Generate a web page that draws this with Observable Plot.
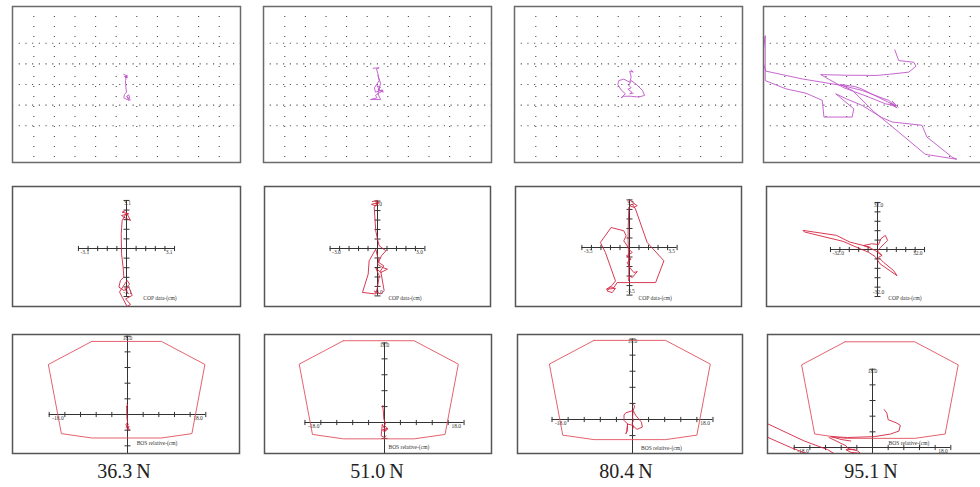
<!DOCTYPE html>
<html><head><meta charset="utf-8">
<script src="https://cdn.jsdelivr.net/npm/d3@7"></script>
<script src="https://cdn.jsdelivr.net/npm/@observablehq/plot@0.6"></script>
<style>
html,body{margin:0;padding:0;background:#fff;overflow:hidden;}
#root{position:relative;width:980px;height:487px;overflow:hidden;background:#fff;}
.force{position:absolute;top:459px;width:120px;margin-left:-60px;text-align:center;font-family:"Liberation Serif","DejaVu Serif",serif;font-size:20px;color:#222;line-height:24px;}
</style></head><body><div id="root"></div>
<script>
// ---------------- DATA ----------------
const forces = ["36.3\u2009N", "51.0\u2009N", "80.4\u2009N", "95.1\u2009N"];
const copRanges = [3.1, 3.0, 3.5, 32.0];
const bosRange = 18.0;
const gridX = [-4.5, -3.5, -2.5, -1.5, -0.5, 0.5, 1.5, 2.5, 3.5, 4.5];
const gridY = [-2, -1, 0, 1, 2];

// Row 1: raw centre-of-pressure traces (grid units)
const raw1 = [[-0.13,0.49],[0.03,0.42],[-0.1,0.39],[0.06,0.36],[-0.06,0.32],[0.02,0.45],[-0.05,0.19],[-0.03,-0.13],[0,-0.37],[-0.1,-0.49],[-0.13,-0.65],[0.03,-0.73],[0.16,-0.65],[0.11,-0.5],[0,-0.58],[0.19,-0.74],[0.1,-0.78],[0.05,-0.6]];
const raw2 = [[-0.21,0.79],[0.08,0.81],[-0.05,0.76],[0.02,0.52],[0.08,0.19],[-0.02,0.03],[-0.15,-0.16],[-0.1,-0.37],[0.06,-0.32],[0.23,-0.26],[0.28,-0.37],[0.02,-0.26],[0.15,-0.13],[-0.02,-0.06],[0.12,-0.3],[0.25,-0.3],[-0.1,-0.53],[-0.02,-0.65],[-0.34,-0.73],[0.15,-0.73],[0.02,-0.45],[0.15,0.06],[0.02,0.44]];
const raw3 = [[0.13,0.71],[0.23,0.6],[0.06,0.65],[0.13,0.36],[0.06,0.11],[-0.23,0.26],[-0.47,0.19],[-0.52,0],[-0.36,-0.26],[-0.15,-0.45],[-0.36,-0.65],[-0.23,-0.57],[0.1,-0.57],[0.5,-0.61],[0.78,-0.53],[0.68,-0.29],[0.39,0],[0.13,0.19],[0.02,-0.05],[0.13,-0.16],[-0.03,-0.23],[0.16,-0.37],[0.06,-0.45],[0.23,-0.42]];
const raw4 = [[0.84,1.68],[1.03,1.16],[1.4,1.12],[1.76,1.08],[1.87,0.89],[1.52,0.6],[0.6,0.5],[-0.02,0.44],[-1.5,0.45],[-2.76,0.48],[-1.63,-0.16],[-0.5,-0.58],[0.39,-0.94],[0.7,-1.0],[0.95,-1.13],[0.6,-0.9],[0.85,-1.05],[0.55,-0.77],[0.31,-0.69],[-0.74,-0.29],[-1.71,-0.05],[-3.65,0.27],[-5.42,0.65],[-5.6,1.2],[-5.45,2.37],[-5.45,0.19],[-4.45,-0.21],[-3.48,-0.42],[-2.68,-0.77],[-2.6,-1.58],[-1.23,-1.58],[-1.15,-1.18],[-2.03,-0.45],[-1.5,-0.7],[-0.74,-1.02],[0.2,-1.6],[0.71,-1.82],[2.16,-1.98],[2.4,-2.55],[3.61,-3.52],[3.85,-3.63],[2.32,-3.39],[1.03,-2.31],[-0.2,-1.3],[-1.2,-0.3],[-1.6,-0.1],[-1.8,0.0],[-1.1,-0.1],[-0.8,-0.2],[0,-0.6],[0.5,-0.85],[0.9,-1.05],[0.7,-0.8],[1.0,-1.1]];

// Row 2: COP data (cm)
const cop1 = [[-0.06,2.45],[-0.28,2.34],[0.15,2.24],[-0.32,2.13],[-0.17,2.02],[0.26,1.81],[0.0,2.3],[-0.28,1.81],[-0.34,0.95],[-0.32,-0.34],[-0.22,-1.2],[-0.17,-1.85],[-0.39,-2.06],[-0.49,-2.49],[-0.17,-2.71],[0.15,-2.49],[0.37,-3.03],[-0.06,-3.25],[0.26,-3.61],[0.04,-3.74],[-0.28,-3.14],[-0.45,-2.8],[0.04,-2.06],[0.2,-2.3],[-0.1,-2.6],[0.1,-2.9]];
const cop2 = [[-0.32,2.97],[0,3.05],[-0.11,2.69],[-0.38,2.8],[0.11,2.91],[-0.21,2.63],[-0.11,1.12],[0,0.59],[0.11,0.17],[0.53,-0.15],[0.25,-0.46],[0,-0.99],[0.32,-1.2],[0.63,-1.31],[0.21,-1.52],[-0.11,-1.24],[0.11,-1.73],[0,-2.46],[-0.11,-2.88],[-0.95,-2.78],[-0.59,-1.62],[-0.53,-0.78],[-0.11,-0.04],[0.1,-0.9],[0.4,-1.1],[0.2,-1.4],[0.42,-2.67],[0.21,-2.88],[-0.2,-2.7]];
const cop3 = [[-0.05,3.49],[0.2,3.39],[0.32,3.24],[0.57,3.07],[0.32,2.95],[0.02,3.07],[0.2,3.2],[0.44,2.83],[1.3,0.37],[2.53,-0.98],[1.92,-2.58],[-0.91,-2.58],[-1.15,-2.95],[-1.4,-2.9],[-1.65,-3.19],[-1.28,-3.32],[-1.03,-3.0],[-1.7,-3.07],[-1.3,-2.8],[-1.03,-2.46],[-1.77,-0.37],[-2.14,0.37],[-1.35,1.47],[-0.42,1.23],[-0.25,0.86],[-0.42,0.49],[-0.17,0.12],[-0.05,-0.12],[0.2,-0.37],[-0.22,-0.61],[0.12,-0.86],[-0.17,-1.1],[0.02,-1.47],[0.32,-1.84],[0.57,-1.77],[0.2,-2.21],[0.02,-2.09],[-0.05,-2.46],[-0.05,-1.5],[-0.1,0.5],[-0.1,1.23],[-0.05,2.95]];
const cop4 = [[-5.0,1.6],[-18.7,5.0],[-27.9,9.6],[-50.7,13.0],[-49.6,11.9],[-23.3,5.5],[-11.9,0.5],[-6.2,-1.8],[-1.6,-4.8],[1.8,-9.8],[13.3,-17.8],[11,-14.4],[4.1,-8.7],[0.7,-5.3],[3.0,-4.1],[-1.6,-0.7],[-5,1.0],[-9.6,2.7],[-3.9,3.9],[0.7,3.4],[2.3,7.3],[5.3,9.6],[6.9,6.2],[4.6,3.9],[2.3,1.6],[0,-1],[3,-4]];

// Row 3: BOS relative (cm)
const bosPolygon = [[-8,16.8],[8,16.8],[18,11.5],[15,-4.4],[8,-5.4],[-8,-5.4],[-15,-4.4],[-18,11.5],[-8,16.8]];
const bosOffsets = [[-0.2,0],[-1.3,1.7],[-0.6,0.9],[1.7,7.5]];
const bos1 = [[[-0.15,2.4],[0.1,2.2],[-0.2,2.0],[-0.2,1.35],[-0.15,-0.5],[0,-1.8],[-0.4,-2.4],[0.4,-2.8],[-0.15,-3.3],[0.45,-3.6],[0,-2.6],[-0.3,-3.0],[0.2,-2.2]]];
const bos2 = [[[-0.3,3.9],[-0.5,3.7],[-0.3,3.0],[-0.15,0.75],[0.23,-0.15],[0,-0.75],[0.45,-1.1],[0.75,-1.5],[0,-2.1],[-0.5,-1.7],[0.6,-1.3],[0.2,-1.8],[-0.5,-0.4],[-0.75,-3.0],[0,-3.4],[0.3,-3.0]]];
const bos3 = [[[0.2,3.3],[0.5,3.0],[0.15,2.0],[-1.5,1.5],[-1.9,1.0],[-1.9,-0.2],[-1.1,-1.0],[-1.3,-2.7],[-1.5,-3.2],[-1.2,-2.6],[-1.1,-1.0],[0,-1.3],[1.0,-2.2],[2.2,-1.7],[2.0,-0.6],[0.75,0.9],[0.15,2.0],[0,0.5],[0.2,-0.3],[-0.1,-0.8],[0.2,-1.6],[0,-2.2]]];
const bos4 = [
  [[2.7,8.7],[3.3,7.9],[3.6,6.4],[5.4,5.7],[6.4,5.1],[6.1,3.8],[4.2,3.1],[0.4,2.5],[-5.7,2.3],[-9.6,2.5],[-7,1.8],[-5,1.5]],
  [[-24,5.4],[-15.7,1.5],[-10.3,-0.5],[-8,-1.9]],
  [[-24,2.3],[-18.8,0],[-14.9,-1.5]],
  [[-10,2.3],[-6.1,0.4],[-5.7,-0.2],[-3.4,-0.8],[-2.7,-1.4],[-5,-1.1],[-6.1,-0.5],[-4,-0.4]]
];

const rawTraces = [raw1, raw2, raw3, raw4];
const copTraces = [cop1, cop2, cop3, cop4];
const bosTraces = [bos1, bos2, bos3, bos4];

// ---------------- LAYOUT ----------------
const root = document.getElementById("root");
const purple = "#c056c9", red = "#d42441", polyRed = "#e0505e", axisCol = "#333";
const serif = "Liberation Serif, DejaVu Serif, serif";
const vtick = {draw(ctx){ ctx.moveTo(0,-2.6); ctx.lineTo(0,2.6); }};
const htick = {draw(ctx){ ctx.moveTo(-3,0); ctx.lineTo(3,0); }};

function panel({left, top, width, height, cx, cy, s, marks}) {
  const svg = Plot.plot({
    width, height, margin: 0,
    x: {domain: [(left - cx) / s, (left + width - cx) / s], axis: null},
    y: {domain: [(cy - top - height) / s, (cy - top) / s], axis: null},
    style: {overflow: "visible", background: "transparent"},
    marks
  });
  svg.style.position = "absolute";
  svg.style.left = left + "px";
  svg.style.top = top + "px";
  root.appendChild(svg);
}
const lbl = (t, o) => Plot.text([t], {text: d => d, fontSize: 5.5, fontFamily: serif, fill: "#333", ...o});

// Row 1
const row1 = {top: 6, height: 156, width: 228, lefts: [12, 263, 514, 763], s: 20.6, cy: 84};
rawTraces.forEach((tr, i) => {
  const left = row1.lefts[i];
  panel({left, top: row1.top, width: row1.width, height: row1.height, cx: left + row1.width / 2, cy: row1.cy, s: row1.s, marks: [
    Plot.ruleX(gridX, {stroke: "#4a4a4a", strokeWidth: 1.1, strokeDasharray: "1.1,8.9"}),
    Plot.ruleY(gridY, {stroke: "#4a4a4a", strokeWidth: 1.1, strokeDasharray: "1.1,5.6"}),
    Plot.line(tr, {x: d => d[0], y: d => d[1], stroke: purple, strokeWidth: 0.9, clip: true}),
    Plot.frame({stroke: "#6a6a6a", strokeWidth: 1.5})
  ]});
});

// Row 2
const row2 = {top: 186, height: 120, lefts: [12, 264, 515, 766], widths: [228, 226, 226, 228], cx: [126, 377, 629, 877], cy: [248, 248, 247, 249], s: [15.5, 15.8, 13.6, 1.47], label: [[0.35,-1.03],[0.23,-1.05],[0.19,-1.06],[0.23,-1.04]]};
copTraces.forEach((tr, i) => {
  const r = copRanges[i];
  const ticks = d3.range(-5, 6).map(k => k * r / 5);
  const f = r.toFixed(1);
  panel({left: row2.lefts[i], top: row2.top, width: row2.widths[i], height: row2.height, cx: row2.cx[i], cy: row2.cy[i], s: row2.s[i], marks: [
    Plot.frame({stroke: "#555", strokeWidth: 1.5}),
    Plot.ruleY([0], {x1: -r, x2: r, stroke: axisCol, strokeWidth: 1}),
    Plot.ruleX([0], {y1: -r, y2: r, stroke: axisCol, strokeWidth: 1}),
    Plot.dot(ticks, {x: d => d, y: 0, symbol: vtick, stroke: axisCol, strokeWidth: 1}),
    Plot.dot(ticks, {x: 0, y: d => d, symbol: htick, stroke: axisCol, strokeWidth: 1}),
    lbl("-" + f, {x: -r, y: 0, dx: 2, dy: 4, textAnchor: "start"}),
    lbl(f, {x: r, y: 0, dx: -2, dy: 4, textAnchor: "end"}),
    lbl(f, {x: 0, y: r, dx: 1, dy: 3}),
    lbl("-" + f, {x: 0, y: -r, dx: 1, dy: -4}),
    Plot.line(tr, {x: d => d[0], y: d => d[1], stroke: red, strokeWidth: 0.9, clip: true}),
    lbl("COP data-(cm)", {x: row2.label[i][0] * r, y: row2.label[i][1] * r, textAnchor: "start"})
  ]});
});

// Row 3
const row3 = {top: 334, height: 119, lefts: [12, 264, 517, 767], widths: [227, 227, 225, 227], cx: [127, 384, 632, 872], cy: [414, 422, 419, 447], s: [4.35, 4.42, 4.47, 4.35], label: [[2.1,-6.7],[0.9,-5.7],[1.9,-6.4],[3.7,0.9]]};
bosTraces.forEach((segs, i) => {
  const r = bosRange;
  const s = row3.s[i], cy = row3.cy[i];
  const ymin = (cy - row3.top - row3.height) / s;
  const step = r / 5;
  const hticks = d3.range(-5, 6).map(k => k * step);
  const vticks = d3.range(-5, 6).map(k => k * step).filter(v => v > ymin + 0.5);
  const [ox, oy] = bosOffsets[i];
  const poly = bosPolygon.map(([x, y]) => [x + ox, y + oy]);
  const f = r.toFixed(1);
  panel({left: row3.lefts[i], top: row3.top, width: row3.widths[i], height: row3.height, cx: row3.cx[i], cy, s, marks: [
    Plot.frame({stroke: "#555", strokeWidth: 1.5}),
    Plot.ruleY([0], {x1: -r, x2: r, stroke: axisCol, strokeWidth: 1}),
    Plot.ruleX([0], {y1: ymin, y2: r, stroke: axisCol, strokeWidth: 1}),
    Plot.dot(hticks, {x: d => d, y: 0, symbol: vtick, stroke: axisCol, strokeWidth: 1}),
    Plot.dot(vticks, {x: 0, y: d => d, symbol: htick, stroke: axisCol, strokeWidth: 1}),
    lbl("-" + f, {x: -r, y: 0, dx: 3, dy: 4, textAnchor: "start"}),
    lbl(f, {x: r, y: 0, dx: -3, dy: 4, textAnchor: "end"}),
    lbl(f, {x: 0, y: r, dx: 0, dy: 2}),
    Plot.line(poly, {x: d => d[0], y: d => d[1], stroke: polyRed, strokeWidth: 0.9, clip: true}),
    ...segs.map(seg => Plot.line(seg, {x: d => d[0], y: d => d[1], stroke: red, strokeWidth: 0.9, clip: true})),
    lbl("BOS relative-(cm)", {x: row3.label[i][0], y: row3.label[i][1], textAnchor: "start"})
  ]});
});

// Force labels under each column
const labelX = [124, 377, 626, 871];
forces.forEach((t, i) => {
  const d = document.createElement("div");
  d.className = "force";
  d.style.left = labelX[i] + "px";
  d.textContent = t;
  root.appendChild(d);
});
</script>
</body></html>
